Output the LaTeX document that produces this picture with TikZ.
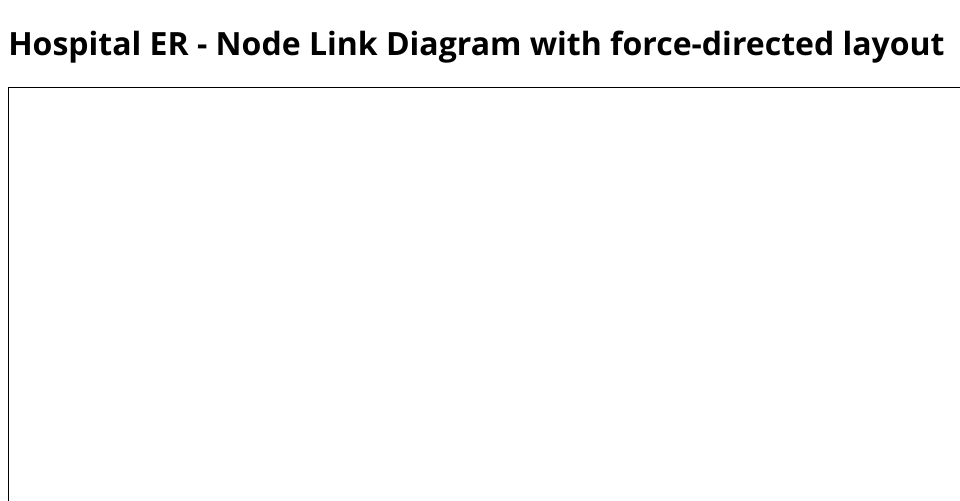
\documentclass[tikz,border=0pt]{standalone}
\usepackage{fontspec}
\setmainfont{Open Sans}
\usetikzlibrary{positioning}
\tikzset{
  heading/.style={font=\bfseries\fontsize{24}{28}\selectfont, anchor=base west, inner sep=0pt},
  frame/.style={draw=black, line width=0.75pt},
}
\begin{document}
\begin{tikzpicture}[x=0.75pt, y=-0.75pt]
  \useasboundingbox (0,0) rectangle (960,500);
  \clip (0,0) rectangle (960,500);
  \node[heading] (title) at (8,55) {Hospital ER - Node Link Diagram with force-directed layout};
  % svg canvas, runs off the page
  \draw[frame] (8.5,87.5) rectangle (1200,700);
\end{tikzpicture}
\end{document}
